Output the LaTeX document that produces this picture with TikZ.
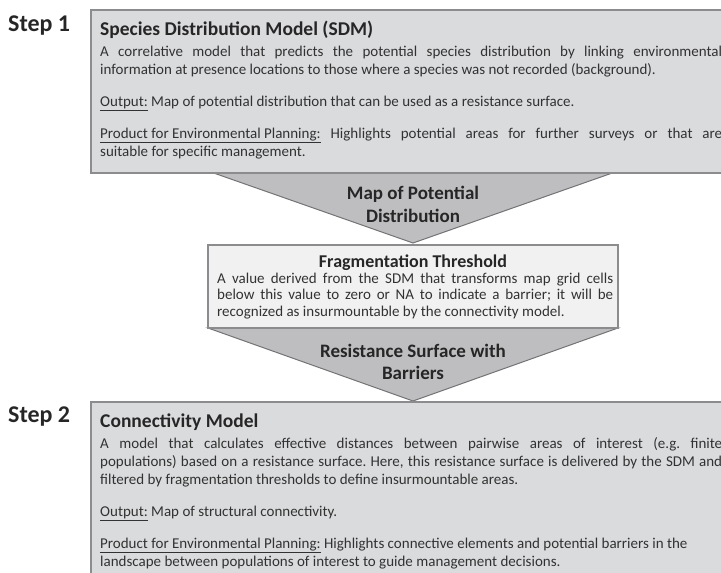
\documentclass[tikz,border=0pt]{standalone}
\usepackage{fontspec}
\setmainfont{Carlito}
\usepackage{tikz}

\definecolor{boxfill}{RGB}{218,219,221}
\definecolor{boxline}{RGB}{140,140,142}
\definecolor{fragfill}{RGB}{241,241,241}
\definecolor{chevfill}{RGB}{190,190,192}
\definecolor{chevline}{RGB}{115,115,117}
\definecolor{textgray}{RGB}{50,50,50}

\newcommand{\bodysize}{\fontsize{15}{18}\selectfont}

\begin{document}
\frenchspacing
\begin{tikzpicture}[x=1pt,y=-1pt,
	txt/.style={anchor=base west,inner sep=0pt,text=textgray,font=\bodysize},
	steplabel/.style={anchor=base west,inner sep=0pt,text=black!85,font=\fontsize{24}{28}\selectfont\bfseries},
	boxtitle/.style={anchor=base west,inner sep=0pt,text=black!85,font=\fontsize{19.5}{23}\selectfont\bfseries},
	chevtext/.style={anchor=base,inner sep=0pt,text=black!85,font=\fontsize{19}{23}\selectfont\bfseries},
	chevron/.style={fill=chevfill,draw=chevline,line width=1pt,line join=miter}]
	\useasboundingbox (0,0) rectangle (721,573);
	
	% chevrons
	\filldraw[chevron] (208,171) -- (618,171) -- (413,243) -- cycle;
	\filldraw[chevron] (208,328) -- (618,328) -- (413,401) -- cycle;
	
	% step 1 box
	\draw[boxline,line width=1.5pt,fill=boxfill] (91,10) rectangle (745,173);
	\node[steplabel] (step1) at (8,31) {Step 1};
	\node[boxtitle] (sdmtitle) at (100,35) {Species Distribution Model (SDM)};
	\node[txt] (sdmA) at (100,56) {\makebox[622pt][s]{A correlative model that predicts the potential species distribution by linking environmental}};
	\node[txt] (sdmB) at (100,74) {information at presence locations to those where a species was not recorded (background).};
	\node[txt] (sdmout) at (100,106) {\underline{Output:} Map of potential distribution that can be used as a resistance surface.};
	\node[txt] (sdmprodA) at (100,138) {\makebox[622pt][s]{\underline{Product for Environmental Planning:} Highlights potential areas for further surveys or that are}};
	\node[txt] (sdmprodB) at (100,156) {suitable for specific management.};
	
	% first chevron text
	\node[chevtext] (mapA) at (413,199) {Map of Potential};
	\node[chevtext] (mapB) at (413,222) {Distribution};
	
	% threshold box
	\draw[boxline,line width=1.2pt,fill=fragfill] (208,245) rectangle (618,328);
	\node[anchor=base,inner sep=0pt,text=black!85,font=\fontsize{18}{21}\selectfont\bfseries] (fragtitle) at (413,267) {Fragmentation Threshold};
	\node[txt] (fragA) at (217,283) {\makebox[396pt][s]{A value derived from the SDM that transforms map grid cells}};
	\node[txt] (fragB) at (217,299.5) {\makebox[396pt][s]{below this value to zero or NA to indicate a barrier; it will be}};
	\node[txt] (fragC) at (217,316) {recognized as insurmountable by the connectivity model.};
	
	% second chevron text
	\node[chevtext] (resA) at (413,357) {Resistance Surface with};
	\node[chevtext] (resB) at (413,379) {Barriers};
	
	% step 2 box
	\draw[boxline,line width=1.5pt,fill=boxfill] (91,402) rectangle (745,590);
	\node[steplabel] (step2) at (8,422) {Step 2};
	\node[boxtitle] (contitle) at (100,427) {Connectivity Model};
	\node[txt] (conA) at (100,448) {\makebox[622pt][s]{A model that calculates effective distances between pairwise areas of interest (e.g. finite}};
	\node[txt] (conB) at (100,466) {\makebox[622pt][s]{populations) based on a resistance surface. Here, this resistance surface is delivered by the SDM and}};
	\node[txt] (conC) at (100,484) {filtered by fragmentation thresholds to define insurmountable areas.};
	\node[txt] (conout) at (100,516) {\underline{Output:} Map of structural connectivity.};
	\node[txt] (conprodA) at (100,548) {\underline{Product for Environmental Planning:} Highlights connective elements and potential barriers in the};
	\node[txt] (conprodB) at (100,566) {landscape between populations of interest to guide management decisions.};
	
\end{tikzpicture}
\end{document}
